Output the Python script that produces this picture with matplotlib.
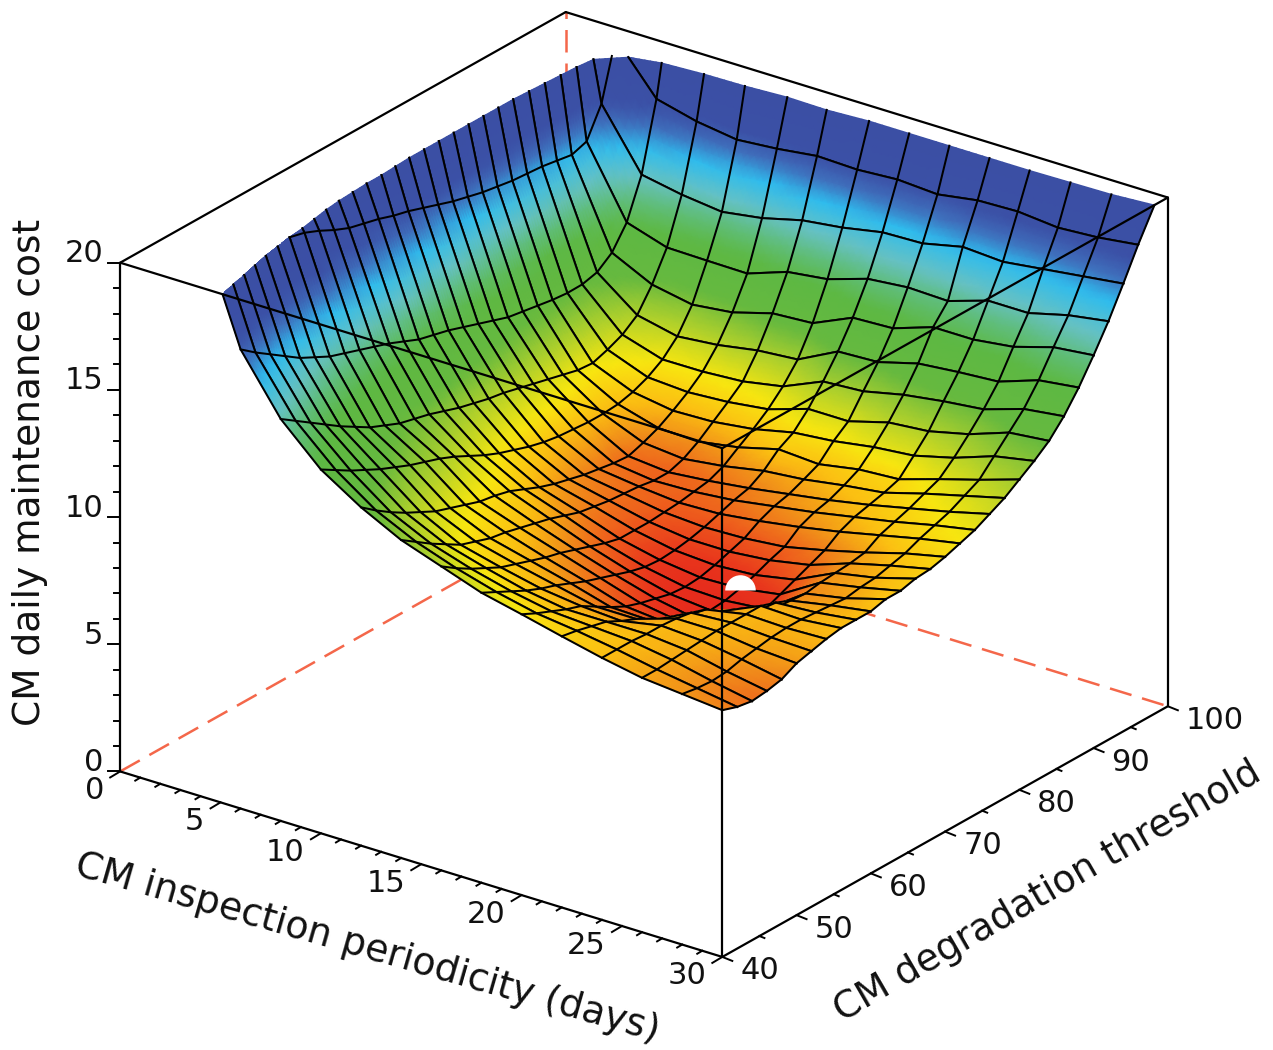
"""
CM daily maintenance cost surface, gnuplot style box view.
"""

import numpy as np
import matplotlib
matplotlib.use("Agg")
import matplotlib.pyplot as plt
from matplotlib.colors import LinearSegmentedColormap, Normalize
from mpl_toolkits.mplot3d import proj3d

W, H = 1273, 1050

# inspection periodicity columns, threshold rows (far row first)
periodicity = [4, 6, 8, 10, 12, 14, 16, 18, 20, 22, 24, 26, 28, 30]
threshold = [96, 94, 92, 90, 88, 86, 84, 82, 80, 78, 76, 74, 72, 70, 68, 66, 64, 62, 60, 58, 56, 54, 52, 50, 48, 46, 44, 42, 40]

cost = [
    [20.0, 18.7, 18.3, 18.07, 18.2, 18.4, 18.35, 18.45, 18.35, 18.6, 18.65, 18.5, 18.6, 18.8],
    [18.35, 16.05, 15.75, 15.56, 15.8, 16.2, 16.4, 16.7, 16.75, 17.1, 17.0, 17.2, 17.4, 17.6],
    [17.2, 14.5, 14.0, 13.97, 13.95, 14.5, 14.7, 15.2, 15.35, 15.3, 15.8, 15.8, 16.2, 16.45],
    [17.0, 13.64, 12.87, 12.57, 12.75, 13.2, 13.3, 14.0, 14.07, 14.6, 14.6, 14.8, 15.27, 15.44],
    [17.1, 13.2, 12.0, 11.65, 11.8, 12.07, 12.2, 13.0, 13.07, 13.5, 13.65, 13.76, 14.3, 14.5],
    [17.2, 13.05, 11.56, 11.07, 11.08, 11.18, 11.47, 12.15, 12.25, 12.6, 12.83, 13.0, 13.5, 13.7],
    [17.25, 13.04, 11.3, 10.7, 10.6, 10.7, 10.9, 11.4, 11.4, 11.84, 11.98, 12.35, 12.9, 13.06],
    [17.3, 13.1, 11.1, 10.45, 10.2, 10.25, 10.45, 10.8, 10.95, 11.2, 11.35, 11.75, 12.3, 12.6],
    [17.4, 13.2, 11.15, 10.3, 9.85, 9.8, 10.06, 10.47, 10.37, 10.65, 10.75, 11.24, 11.7, 12.2],
    [17.5, 13.3, 11.3, 10.25, 9.6, 9.45, 9.65, 9.95, 10.1, 10.35, 10.55, 11.0, 11.4, 11.8],
    [17.65, 13.4, 11.45, 10.25, 9.4, 9.25, 9.4, 9.6, 9.85, 10.1, 10.4, 10.75, 11.1, 11.5],
    [17.8, 13.6, 11.6, 10.3, 9.45, 9.25, 9.3, 9.45, 9.7, 9.95, 10.25, 10.55, 10.9, 11.2],
    [18.0, 13.8, 11.75, 10.35, 9.55, 9.35, 9.2, 9.25, 9.45, 9.7, 10.0, 10.35, 10.7, 11.0],
    [18.2, 14.0, 11.9, 10.45, 9.65, 9.4, 9.15, 9.05, 9.1, 9.25, 9.6, 10.0, 10.45, 10.8],
    [18.4, 14.2, 12.0, 10.6, 9.8, 9.45, 9.1, 8.9, 8.9, 9.05, 9.35, 9.9, 10.3, 10.65],
    [18.55, 14.35, 12.15, 10.8, 9.95, 9.55, 9.1, 8.8, 8.7, 8.8, 9.1, 9.85, 10.15, 10.6],
    [18.75, 14.5, 12.3, 11.0, 10.15, 9.65, 9.1, 8.75, 8.55, 8.6, 8.85, 9.8, 10.1, 10.45],
    [18.9, 14.75, 12.5, 11.25, 10.4, 9.85, 9.25, 8.8, 8.5, 8.45, 8.6, 9.7, 10.0, 10.45],
    [19.05, 15.0, 12.7, 11.55, 10.65, 10.05, 9.45, 8.95, 8.55, 8.4, 8.5, 9.75, 10.05, 10.3],
    [19.3, 15.2, 12.85, 11.85, 10.8, 10.2, 9.65, 9.15, 8.7, 8.4, 8.8, 10.0, 10.1, 10.3],
    [19.6, 15.4, 13.0, 12.1, 10.9, 10.35, 9.85, 9.35, 8.85, 8.6, 9.5, 10.2, 10.15, 10.3],
    [19.85, 15.6, 13.25, 12.3, 11.1, 10.5, 10.0, 9.55, 9.05, 8.9, 9.9, 10.2, 10.15, 10.2],
    [20.0, 15.8, 13.5, 12.5, 11.3, 10.6, 10.2, 9.8, 9.35, 9.3, 10.1, 10.2, 10.1, 10.05],
    [20.0, 16.1, 13.85, 12.75, 11.5, 10.8, 10.4, 10.05, 9.7, 9.7, 10.2, 10.2, 10.0, 9.9],
    [20.0, 16.4, 14.2, 13.0, 11.8, 11.0, 10.6, 10.25, 10.05, 9.95, 10.25, 10.15, 9.9, 9.6],
    [20.0, 16.8, 14.6, 13.3, 12.1, 11.35, 10.9, 10.5, 10.25, 10.25, 10.25, 10.1, 9.75, 9.47],
    [20.0, 17.2, 15.0, 13.6, 12.45, 11.7, 11.2, 10.8, 10.5, 10.4, 10.3, 10.05, 9.7, 9.4],
    [20.0, 17.6, 15.4, 13.95, 12.85, 12.1, 11.55, 11.1, 10.75, 10.55, 10.3, 10.0, 9.75, 9.5],
    [20.0, 18.05, 15.8, 14.3, 13.3, 12.5, 11.95, 11.4, 11.04, 10.66, 10.3, 10.0, 9.85, 9.7],
]

# where the surface leaves the z range: low periodicity edge, per threshold row
edge_periodicity = [4.6, 3.6, 3.5, 3.45, 3.4, 3.35, 3.3, 3.3, 3.3, 3.3, 3.3, 3.3, 3.3, 3.3, 3.35,
                    3.4, 3.4, 3.45, 3.5, 3.6, 3.75, 3.9, 4.0, 4.15, 4.3, 4.5, 4.7, 4.9, 5.1]
# and high threshold edge, per periodicity column
edge_threshold = [96, 96.7, 97, 97.1, 97.4, 97.3, 97.6, 97.6, 97.6, 97.6, 97.6, 97.7, 97.8, 98.2]
# end of the x=4 line at the far corner
apex_threshold = 95.4

# the small hole in the surface
hole_point = (24.2, 58, 10.04)

z_ticks = [0, 5, 10, 15, 20]
x_ticks = [0, 5, 10, 15, 20, 25, 30]
y_ticks = [40, 50, 60, 70, 80, 90, 100]

palette = [(8.4, "#e52a1c"), (8.7, "#e8341c"), (9.2, "#ee5f1c"), (9.7, "#f08a1a"), (10.3, "#fbbf12"), (11.0, "#f8e610"),
           (12.0, "#aed02c"), (13.0, "#66b93f"), (14.4, "#5db843"), (15.2, "#5fbd78"), (16.0, "#66c1c4"),
           (17.0, "#2fbcee"), (17.7, "#3f70bd"), (18.4, "#3b50a6"), (20.0, "#3b4fa4")]

norm = Normalize(8.4, 20)
cmap = LinearSegmentedColormap.from_list("cost", [((v - 8.4) / 11.6, c) for v, c in palette])

fig = plt.figure(figsize=(W / 100, H / 100), dpi=100)
side = 1163
left = 644 - 0.5135 * side
bottom = (H - 484.5) - 0.5135 * side
rect = [left / W, bottom / H, side / W, side / H]

ax = fig.add_axes(rect, projection="3d")
ax.set_proj_type("ortho")
ax.view_init(elev=24.6, azim=-53.5)
ax.set_box_aspect((1, 1, 0.747))
ax.set_xlim(0, 30)
ax.set_ylim(40, 100)
ax.set_zlim(0, 20)
ax.set_axis_off()

dash = dict(color="#f4674a", lw=1.8, linestyle=(0, (9, 4.4)))
ax.plot([0, 0], [40, 100], [0, 0], **dash)
ax.plot([0, 30], [100, 100], [0, 0], **dash)
ax.plot([0, 0], [100, 100], [0, 20], **dash)

box = dict(color="black", lw=1.6, solid_capstyle="round")
ax.plot([0, 0], [40, 100], [20, 20], **box)
ax.plot([0, 30], [100, 100], [20, 20], **box)
ax.plot([0, 0], [40, 40], [0, 20], **box)
ax.plot([30, 30], [100, 100], [0, 20], **box)
ax.plot([0, 30], [40, 40], [0, 0], **box)
ax.plot([30, 30], [40, 100], [0, 0], **box)

# second layer on the projected plane, it gives the smooth colour between grid nodes
top = fig.add_axes(rect)
top.set_xlim(-0.095, 0.09)
top.set_ylim(-0.095, 0.09)
top.set_axis_off()
top.patch.set_alpha(0)
px_unit = 0.185 / side


def project(x, y, z):
    x = np.asarray(x, float)
    shape = x.shape
    px, py, _ = proj3d.proj_transform(x.ravel(), np.asarray(y, float).ravel(), np.asarray(z, float).ravel(), ax.get_proj())
    return np.asarray(px).reshape(shape), np.asarray(py).reshape(shape)


def shade_grid(A, n=6):
    # split each cell for shading only, so colour follows the palette like pm3d interpolate
    rows, cols = A.shape
    r_new = np.linspace(0, rows - 1, (rows - 1) * n + 1)
    c_new = np.linspace(0, cols - 1, (cols - 1) * n + 1)
    B = np.array([np.interp(r_new, np.arange(rows), A[:, c]) for c in range(cols)]).T
    return np.array([np.interp(c_new, np.arange(cols), row) for row in B])


# full grid with an extra edge column and an extra edge row
n_rows, n_cols = len(threshold), len(periodicity)
X = np.zeros((n_rows + 1, n_cols + 1))
Y = np.zeros((n_rows + 1, n_cols + 1))
Z = np.zeros((n_rows + 1, n_cols + 1))
for i in range(n_rows):
    X[i + 1, 0] = edge_periodicity[i]
    Y[i + 1, 0] = threshold[i]
    Z[i + 1, 0] = 20
    for j in range(n_cols):
        X[i + 1, j + 1] = max(periodicity[j], edge_periodicity[i])
        Y[i + 1, j + 1] = threshold[i]
        Z[i + 1, j + 1] = cost[i][j]
X[0, 0] = edge_periodicity[0]
Y[0, 0] = threshold[0]
Z[0, 0] = 20
for j in range(n_cols):
    X[0, j + 1] = max(periodicity[j], edge_periodicity[0])
    Y[0, j + 1] = edge_threshold[j]
    Z[0, j + 1] = 20

PX, PY = project(X, Y, Z)
FZ = shade_grid(Z)
FX, FY = project(shade_grid(X), shade_grid(Y), FZ)

# paint band by band from the far side, so the front lip hides what lies behind it
mesh = dict(color="black", lw=1.45, solid_joinstyle="round")
for i in range(n_rows):
    base = 1 + i * 0.02
    s = i * 6
    top.pcolormesh(FX[s:s + 7, :], FY[s:s + 7, :], FZ[s:s + 7, :], shading="gouraud", cmap=cmap, norm=norm, zorder=base)
    if i > 0:
        top.plot(PX[i, :], PY[i, :], zorder=base + 0.01, **mesh)
    top.plot(PX[i + 1, :], PY[i + 1, :], zorder=base + 0.01, **mesh)
    for j in range(2, n_cols + 1):
        top.plot(PX[i:i + 2, j], PY[i:i + 2, j], zorder=base + 0.01, **mesh)

# the x=4 line only exists below the z limit
keep = [i for i in range(2, n_rows + 1) if threshold[i - 1] >= 52]
ax_, ay_ = project([4], [apex_threshold], [20])
top.plot(np.r_[ax_, PX[keep, 1]], np.r_[ay_, PY[keep, 1]], zorder=1.9, **mesh)

hx, hy = project([hole_point[0]], [hole_point[1]], [hole_point[2]])
top.plot(hx, hy, marker="o", ms=22, fillstyle="top", mfc="white", markerfacecoloralt="none", mew=0, zorder=3)

# front box edges pass in front of the surface
front = dict(color="black", lw=1.6, zorder=4, solid_capstyle="round")
for (xs, ys, zs) in [([0, 30], [40, 40], [20, 20]), ([30, 30], [40, 100], [20, 20]), ([30, 30], [40, 40], [0, 20])]:
    a, b = project(xs, ys, zs)
    top.plot(a, b, **front)


def tick(x, y, z, dx, dy):
    a, b = project([x], [y], [z])
    top.plot([a[0], a[0] + dx * px_unit], [b[0], b[0] + dy * px_unit], color="black", lw=1.4, zorder=4)


def label(x, y, z, dx, dy, text, ha):
    a, b = project([x], [y], [z])
    top.text(a[0] + dx * px_unit, b[0] + dy * px_unit, text, ha=ha, va="center", fontsize=22, color="#111111", zorder=5)


for v in range(0, 21):
    tick(0, 40, v, -12 if v in z_ticks else -6, 0)
for v in z_ticks:
    label(0, 40, v, -17, 9, str(v), "right")

for v in range(0, 31):
    major = v in x_ticks
    tick(v, 40, 0, -10 if major else -5, -6 if major else -3)
for v in x_ticks:
    label(v, 40, 0, -16, -19, str(v), "right")

for v in range(40, 101, 5):
    major = v in y_ticks
    tick(30, v, 0, 10 if major else 5, -4 if major else -2)
for v in y_ticks:
    label(30, v, 0, 18, -14, str(v), "left")

fig.text(30 / W, 1 - 472 / H, "CM daily maintenance cost", rotation=90, ha="center", va="center", fontsize=27, color="#111111")
fig.text(367 / W, 1 - 948 / H, "CM inspection periodicity (days)", rotation=-16, rotation_mode="anchor", ha="center", va="center", fontsize=27.2, color="#111111")
fig.text(1048 / W, 1 - 892 / H, "CM degradation threshold", rotation=30, rotation_mode="anchor", ha="center", va="center", fontsize=27, color="#111111")

fig.savefig("out.png", dpi=100, facecolor="white")
